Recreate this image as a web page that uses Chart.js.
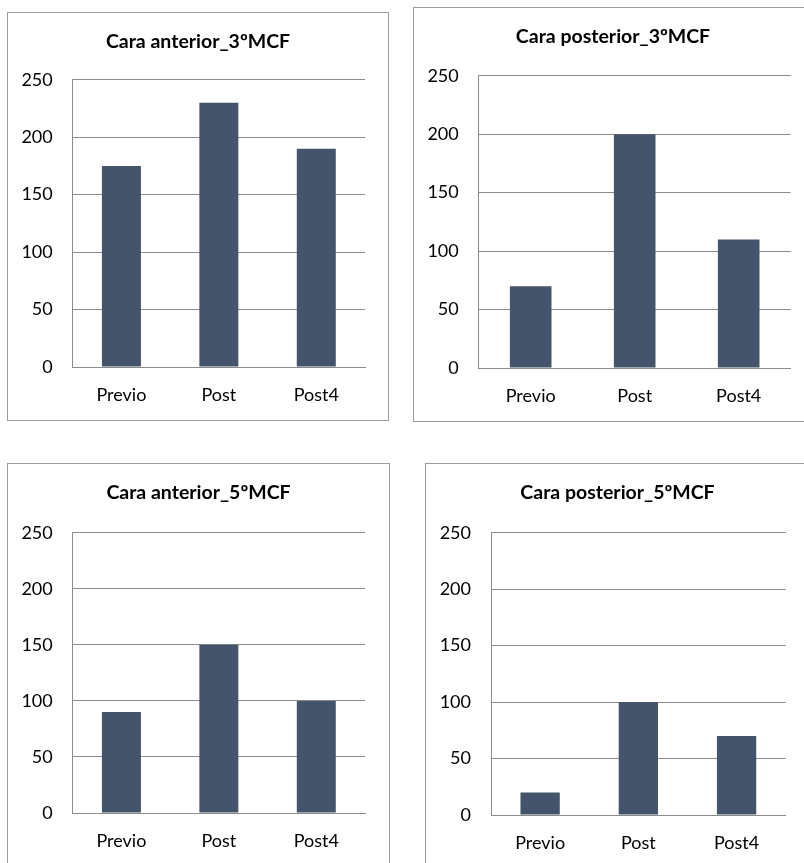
<!DOCTYPE html>
<html>
<head>
<meta charset="utf-8">
<script src="https://cdn.jsdelivr.net/npm/chart.js@4/dist/chart.umd.min.js"></script>
<style>
  html, body { margin: 0; padding: 0; background: #fff; overflow: hidden; }
  body { width: 804px; height: 863px; position: relative; }
  .panel { position: absolute; border: 1px solid #9c9c9c; box-sizing: border-box; background: #fff; }
  .panel canvas { position: absolute; left: 0; top: 0; }
</style>
</head>
<body>
<div class="panel" id="p1"><canvas id="c1"></canvas></div>
<div class="panel" id="p2"><canvas id="c2"></canvas></div>
<div class="panel" id="p3"><canvas id="c3"></canvas></div>
<div class="panel" id="p4"><canvas id="c4"></canvas></div>
<script>
// Measurement phases on the x axis
const categories = ['Previo', 'Post', 'Post4'];

// One series per chart
const anterior3 = [175, 230, 190];
const posterior3 = [70, 200, 110];
const anterior5 = [90, 150, 100];
const posterior5 = [20, 100, 70];

// Shared value axis
const yMin = 0;
const yMax = 250;
const yStep = 50;

const titles = ['Cara anterior_3ºMCF', 'Cara posterior_3ºMCF', 'Cara anterior_5ºMCF', 'Cara posterior_5ºMCF'];

// Frame and plot-area geometry of each panel
const panels = [
  { id: 'p1', canvas: 'c1', title: titles[0], values: anterior3,
    left: 7, top: 12, width: 382, height: 409, yWidth: 64.7, rWidth: 23, xHeight: 53, tTop: 17.3, tBottom: 26 },
  { id: 'p2', canvas: 'c2', title: titles[1], values: posterior3,
    left: 413, top: 7, width: 400, height: 415, yWidth: 64.7, rWidth: 21.3, xHeight: 53, tTop: 17.0, tBottom: 27.3 },
  { id: 'p3', canvas: 'c3', title: titles[2], values: anterior5,
    left: 7, top: 463, width: 383, height: 404, yWidth: 64.7, rWidth: 24, xHeight: 53, tTop: 17.3, tBottom: 28 },
  { id: 'p4', canvas: 'c4', title: titles[3], values: posterior5,
    left: 425, top: 463, width: 385, height: 406, yWidth: 65, rWidth: 23.3, xHeight: 53, tTop: 17.3, tBottom: 28 }
];

const FONT = 'Lato, "Open Sans", sans-serif';
const GRID = '#8c8c8c';
const BAR = '#44546A';

panels.forEach(p => {
  const div = document.getElementById(p.id);
  div.style.left = p.left + 'px';
  div.style.top = p.top + 'px';
  div.style.width = p.width + 'px';
  div.style.height = p.height + 'px';
  const cv = document.getElementById(p.canvas);
  const w = p.width - 2, h = p.height - 2;
  cv.width = w; cv.height = h;
  cv.style.width = w + 'px'; cv.style.height = h + 'px';

  new Chart(cv, {
    type: 'bar',
    data: {
      labels: categories,
      datasets: [{
        data: p.values,
        backgroundColor: BAR,
        borderWidth: 0,
        barPercentage: 0.4,
        categoryPercentage: 1
      }]
    },
    options: {
      responsive: false,
      animation: false,
      devicePixelRatio: 1,
      layout: { padding: 0 },
      plugins: {
        legend: { display: false },
        tooltip: { enabled: false },
        title: {
          display: true,
          text: p.title,
          color: '#000',
          font: { family: FONT, size: 19.5, weight: 'bold', lineHeight: 1.2 },
          padding: { top: p.tTop, bottom: p.tBottom }
        }
      },
      scales: {
        x: {
          grid: { display: false, drawTicks: false },
          border: { display: true, color: GRID, width: 1 },
          ticks: { color: '#000', font: { family: FONT, size: 18, lineHeight: 1.2 }, padding: 17 },
          afterFit: s => { s.width = s.width; s.height = p.xHeight; }
        },
        y: {
          min: yMin, max: yMax,
          grid: { color: GRID, lineWidth: 1, drawTicks: false },
          border: { display: true, color: GRID, width: 1 },
          ticks: { stepSize: yStep, color: '#000', font: { family: FONT, size: 18, lineHeight: 1.2 }, padding: 20 },
          afterFit: s => { s.width = p.yWidth; }
        },
        // blank margin on the right of the plot area
        yRight: {
          position: 'right',
          grid: { display: false, drawTicks: false },
          border: { display: false },
          ticks: { display: false },
          afterFit: s => { s.width = p.rWidth; }
        }
      }
    }
  });
});
</script>
</body>
</html>
